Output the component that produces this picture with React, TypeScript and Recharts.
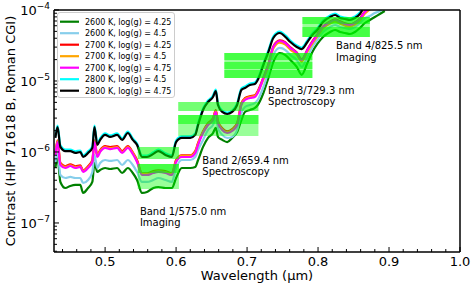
import React from 'react';
import {
  LineChart,
  Line,
  XAxis,
  YAxis,
  ReferenceArea,
  ReferenceLine,
  ReferenceDot,
} from 'recharts';

// wavelength grid (µm)
const wavelength = [
  0.430, 0.433, 0.437, 0.444, 0.451, 0.458, 0.465, 0.469, 0.476, 0.482,
  0.485, 0.489, 0.493, 0.500, 0.507, 0.517, 0.524, 0.532, 0.539, 0.545,
  0.552, 0.559, 0.568, 0.575, 0.585, 0.594, 0.600, 0.608, 0.620, 0.627,
  0.631, 0.638, 0.645, 0.652, 0.656, 0.659, 0.665, 0.672, 0.679, 0.686,
  0.692, 0.697, 0.704, 0.711, 0.715, 0.723, 0.730, 0.737, 0.746, 0.754,
  0.761, 0.770, 0.777, 0.785, 0.792, 0.799, 0.807, 0.817, 0.824, 0.831,
  0.838, 0.845, 0.852, 0.859, 0.866, 0.873, 0.880, 0.887, 0.894,
];

// contrast values, in units of 1e-6
const t2600g425 = [
  0.595, 0.823, 0.378, 0.311, 0.332, 0.343, 0.343, 0.265, 0.311, 0.378,
  0.70, 0.523, 0.558, 0.595, 0.576, 0.595, 0.506, 0.595, 0.506, 0.403,
  0.265, 0.273, 0.311, 0.321, 0.311, 0.311, 0.430, 0.595, 0.595, 0.615,
  0.771, 1.18, 1.58, 1.85, 2.18, 1.63, 1.48, 1.38, 1.58, 1.91,
  2.82, 3.66, 3.91, 4.17, 4.59, 6.77, 11.0, 18.5, 24.8, 23.2,
  19.8, 15.8, 12.2, 17.9, 25.6, 33.2, 41.7, 49.0, 52.3, 49.0,
  47.4, 45.9, 49.0, 55.8, 65.6, 72.3, 79.7, 87.8, 96.8,
];
const t2600g45 = [
  0.723, 1.0, 0.474, 0.430, 0.445, 0.430, 0.430, 0.366, 0.403, 0.523,
  0.907, 0.595, 0.70, 0.771, 0.747, 0.771, 0.656, 0.771, 0.656, 0.523,
  0.378, 0.378, 0.403, 0.430, 0.403, 0.378, 0.595, 0.771, 0.771, 0.85,
  1.07, 1.48, 2.04, 2.40, 3.01, 2.18, 1.74, 1.58, 1.63, 2.04,
  3.54, 4.30, 4.59, 4.90, 5.40, 8.23, 13.4, 23.2, 29.2, 27.3,
  23.2, 19.8, 15.8, 21.8, 30.1, 37.8, 49.0, 57.6, 61.5, 57.6,
  55.8, 54.0, 57.6, 65.6, 77.1, 82.3, 90.7, 96.8, 110,
];
const t2700g425 = [
  0.96, 1.46, 0.70, 0.63, 0.67, 0.63, 0.65, 0.55, 0.63, 0.77,
  1.46, 0.90, 1.06, 1.21, 1.17, 1.21, 1.03, 1.21, 0.99, 0.77,
  0.50, 0.50, 0.54, 0.55, 0.54, 0.50, 0.77, 0.90, 0.90, 1.03,
  1.34, 1.96, 2.54, 2.99, 3.88, 2.71, 2.16, 1.96, 2.10, 2.54,
  4.87, 5.72, 6.11, 6.31, 7.18, 11.2, 17.1, 30.7, 37.3, 35.0,
  29.8, 25.3, 20.2, 27.8, 36.1, 45.4, 58.8, 69.1, 73.7, 69.1,
  64.8, 62.7, 66.9, 76.2, 95.6, 109, 123, 141, 160,
];
const t2700g45 = [
  0.93, 1.42, 0.68, 0.61, 0.65, 0.61, 0.63, 0.54, 0.61, 0.74,
  1.42, 0.88, 1.03, 1.17, 1.13, 1.17, 1.00, 1.17, 0.97, 0.74,
  0.49, 0.49, 0.52, 0.54, 0.52, 0.49, 0.74, 0.88, 0.88, 1.00,
  1.30, 1.91, 2.47, 2.90, 3.77, 2.64, 2.10, 1.91, 2.04, 2.47,
  4.73, 5.56, 5.93, 6.13, 6.97, 10.5, 16.0, 28.6, 34.8, 32.6,
  27.7, 23.6, 18.8, 25.9, 33.6, 42.3, 54.7, 64.3, 68.7, 64.3,
  60.3, 58.4, 62.3, 71.0, 89.0, 102, 115, 131, 149,
];
const t2700g475 = [
  0.907, 1.38, 0.656, 0.595, 0.635, 0.595, 0.615, 0.523, 0.595, 0.723,
  1.38, 0.85, 1.0, 1.14, 1.10, 1.14, 0.968, 1.14, 0.937, 0.723,
  0.474, 0.474, 0.506, 0.523, 0.506, 0.474, 0.723, 0.85, 0.85, 0.968,
  1.26, 1.85, 2.40, 2.82, 3.66, 2.56, 2.04, 1.85, 1.98, 2.40,
  4.59, 5.40, 5.76, 5.95, 6.77, 11.0, 16.8, 30.1, 36.6, 34.3,
  29.2, 24.8, 19.8, 27.3, 35.4, 44.5, 57.6, 67.7, 72.3, 67.7,
  63.5, 61.5, 65.6, 74.7, 93.7, 107, 121, 138, 157,
];
const t2800g45 = [
  1.66, 2.36, 1.24, 1.08, 1.08, 1.02, 1.05, 0.89, 1.02, 1.20,
  2.36, 1.32, 1.55, 1.83, 1.71, 1.83, 1.55, 1.94, 1.55, 1.32,
  0.89, 0.89, 0.99, 1.08, 0.96, 0.89, 1.45, 1.66, 1.66, 1.83,
  2.52, 4.11, 5.31, 6.25, 7.59, 4.82, 3.84, 3.60, 3.84, 4.82,
  7.84, 8.37, 9.22, 9.52, 10.8, 17.6, 26.9, 42.3, 49.8, 43.8,
  37.2, 31.6, 29.6, 37.2, 46.7, 54.9, 71.1, 83.7, 89.3, 81.0,
  78.4, 75.9, 81.0, 92.2, 120, 137, 155, 176, 200,
];
const t2800g475 = [
  1.58, 2.25, 1.18, 1.03, 1.03, 0.97, 1.0, 0.85, 0.97, 1.14,
  2.25, 1.26, 1.48, 1.74, 1.63, 1.74, 1.48, 1.85, 1.48, 1.26,
  0.85, 0.85, 0.94, 1.03, 0.91, 0.85, 1.38, 1.58, 1.58, 1.74,
  2.40, 3.91, 5.06, 5.95, 7.23, 4.59, 3.66, 3.43, 3.66, 4.59,
  7.47, 7.97, 8.78, 9.07, 10.3, 16.8, 25.6, 40.3, 47.4, 41.7,
  35.4, 30.1, 28.2, 35.4, 44.5, 52.3, 67.7, 79.7, 85.0, 77.1,
  74.7, 72.3, 77.1, 87.8, 114, 130, 148, 168, 191,
];

const seriesNames = [
  '2600 K, log(g) = 4.25',
  '2600 K, log(g) = 4.5',
  '2700 K, log(g) = 4.25',
  '2700 K, log(g) = 4.5',
  '2700 K, log(g) = 4.75',
  '2800 K, log(g) = 4.5',
  '2800 K, log(g) = 4.75',
];
const seriesColors = ['#008000', '#87ceeb', '#ff0000', '#ffa500', '#ff00ff', '#00ffff', '#000000'];
const seriesValues = [t2600g425, t2600g45, t2700g425, t2700g45, t2700g475, t2800g45, t2800g475];

// Roman CGI bands
const bandNames = ['Band 1/575.0 nm', 'Band 2/659.4 nm', 'Band 3/729.3 nm', 'Band 4/825.5 nm'];
const bandModes = ['Imaging', 'Spectroscopy', 'Spectroscopy', 'Imaging'];
const bandStart = [0.546, 0.603, 0.668, 0.778];
const bandEnd = [0.604, 0.716, 0.792, 0.873];
// [top, bottom] contrast of the shaded band-integrated boxes
const bandLight = [
  [[6.77e-7, 3.01e-7]],
  [[3.32e-6, 1.68e-6]],
  [[2.48e-5, 1.10e-5]],
  [[7.97e-5, 4.17e-5]],
];
const bandBright = [
  [[1.18e-6, 7.97e-7], [6.77e-7, 5.06e-7]],
  [[5.06e-6, 3.78e-6], [3.32e-6, 2.48e-6]],
  [[2.48e-5, 1.98e-5], [1.85e-5, 1.48e-5], [1.43e-5, 1.10e-5]],
  [[7.97e-5, 6.35e-5], [5.76e-5, 4.17e-5]],
];
// annotation anchors (first line baseline)
const labelX = [0.549, 0.637, 0.7296, 0.8254];
const labelY = [1.3e-7, 6.78e-7, 6.56e-6, 2.82e-5];

const xTicks = [
  0.44, 0.46, 0.48, 0.5, 0.52, 0.54, 0.56, 0.58, 0.6, 0.62, 0.64, 0.66, 0.68, 0.7,
  0.72, 0.74, 0.76, 0.78, 0.8, 0.82, 0.84, 0.86, 0.88, 0.9, 0.92, 0.94, 0.96, 0.98, 1.0,
];
const xMajor = [0.5, 0.6, 0.7, 0.8, 0.9, 1.0];
const yTicks = [
  4e-8, 5e-8, 6e-8, 7e-8, 8e-8, 9e-8,
  1e-7, 2e-7, 3e-7, 4e-7, 5e-7, 6e-7, 7e-7, 8e-7, 9e-7,
  1e-6, 2e-6, 3e-6, 4e-6, 5e-6, 6e-6, 7e-6, 8e-6, 9e-6,
  1e-5, 2e-5, 3e-5, 4e-5, 5e-5, 6e-5, 7e-5, 8e-5, 9e-5,
  1e-4,
];

const data = wavelength.map((wl, i) => {
  const row: Record<string, number> = { wl };
  seriesValues.forEach((vals, s) => {
    row[`s${s}`] = vals[i] * 1e-6;
  });
  return row;
});

const XTick = (props: any) => {
  const { x, y, payload } = props;
  const v = payload.value;
  const major = xMajor.some((m) => Math.abs(m - v) < 1e-6);
  return (
    <g>
      <line x1={x} x2={x} y1={y} y2={y - (major ? 5 : 3)} stroke="#000" strokeWidth={1} />
      {major && (
        <text x={x} y={y + 14} textAnchor="middle" fontSize={13} fill="#000">
          {v.toFixed(1)}
        </text>
      )}
    </g>
  );
};

const YTick = (props: any) => {
  const { x, y, payload } = props;
  const lg = Math.log10(payload.value);
  const e = Math.round(lg);
  const major = Math.abs(lg - e) < 1e-6;
  return (
    <g>
      <line x1={x} x2={x + (major ? 5 : 3)} y1={y} y2={y} stroke="#000" strokeWidth={1} />
      {major && (
        <text x={x - 4} y={y + 5} textAnchor="end" fontSize={13} fill="#000">
          <tspan>10</tspan>
          <tspan dy={-6} fontSize={9}>{'\u2212' + Math.abs(e)}</tspan>
        </text>
      )}
    </g>
  );
};

const XLabel = (props: any) => {
  const { x, y, width } = props.viewBox;
  return (
    <text x={x + width / 2} y={y + 28} textAnchor="middle" fontSize={13} fill="#000">
      Wavelength (μm)
    </text>
  );
};

const YLabel = (props: any) => {
  const { x, y, height } = props.viewBox;
  const cx = x + 15;
  const cy = y + height / 2;
  return (
    <text x={cx} y={cy} transform={`rotate(-90 ${cx} ${cy})`} textAnchor="middle" fontSize={13} fill="#000">
      Contrast (HIP 71618 B, Roman CGI)
    </text>
  );
};

export default function App() {
  return (
    <div style={{ position: 'absolute', left: 0, top: 0, width: 476, height: 289, fontFamily: 'DejaVu Sans', background: '#fff' }}>
      <LineChart width={476} height={289} data={data} margin={{ top: 10, right: 16, left: 0, bottom: 0 }}>
        <XAxis
          dataKey="wl"
          type="number"
          domain={[0.428, 1.0]}
          allowDataOverflow
          ticks={xTicks}
          interval={0}
          tick={<XTick />}
          tickLine={false}
          tickSize={0}
          tickMargin={0}
          height={37}
          axisLine={{ stroke: '#000', strokeWidth: 1.5 }}
          label={XLabel}
        />
        <YAxis
          type="number"
          scale="log"
          domain={[3.9e-8, 1e-4]}
          allowDataOverflow
          ticks={yTicks}
          interval={0}
          tick={<YTick />}
          tickLine={false}
          tickSize={0}
          tickMargin={0}
          width={54}
          axisLine={{ stroke: '#000', strokeWidth: 1.5 }}
          label={YLabel}
        />
        {seriesValues.map((_, s) => (
          <Line
            key={s}
            dataKey={`s${s}`}
            type="monotone"
            stroke={seriesColors[s]}
            strokeWidth={2.2}
            dot={false}
            isAnimationActive={false}
          />
        ))}
        {bandLight.map((rects, b) =>
          rects.map((r, k) => (
            <ReferenceArea
              key={`l${b}${k}`}
              x1={bandStart[b]}
              x2={bandEnd[b]}
              y1={r[1]}
              y2={r[0]}
              fill="#00ff00"
              fillOpacity={0.4}
              stroke="none"
              zIndex={450}
            />
          ))
        )}
        {bandBright.map((rects, b) =>
          rects.map((r, k) => (
            <ReferenceArea
              key={`b${b}${k}`}
              x1={bandStart[b]}
              x2={bandEnd[b]}
              y1={r[1]}
              y2={r[0]}
              fill="#00ff00"
              fillOpacity={0.55}
              stroke="none"
              zIndex={450}
            />
          ))
        )}
        <ReferenceLine y={1e-4} stroke="#000" strokeWidth={1.5} />
        <ReferenceLine x={1.0} stroke="#000" strokeWidth={1.5} />
        {bandNames.map((name, b) => (
          <ReferenceDot
            key={name}
            x={labelX[b]}
            y={labelY[b]}
            r={0}
            ifOverflow="visible"
            shape={(p: any) => (
              <text x={p.cx} y={p.cy} fontSize={10} fill="#000">
                <tspan x={p.cx}>{name}</tspan>
                <tspan x={p.cx} dy={11.5}>{bandModes[b]}</tspan>
              </text>
            )}
          />
        ))}
      </LineChart>
      <svg width={476} height={289} style={{ position: 'absolute', left: 0, top: 0, pointerEvents: 'none' }}>
        <rect x={57.5} y={12.5} width={117} height={85} rx={2.5} fill="#fff" fillOpacity={0.8} stroke="#cccccc" />
        {seriesNames.map((n, i) => (
          <g key={n}>
            <line x1={60} x2={79} y1={21.7 + 11.5 * i} y2={21.7 + 11.5 * i} stroke={seriesColors[i]} strokeWidth={2.2} />
            <text x={85} y={24.6 + 11.5 * i} fontSize={8} fill="#000" fontFamily="DejaVu Sans">
              {n}
            </text>
          </g>
        ))}
      </svg>
    </div>
  );
}
